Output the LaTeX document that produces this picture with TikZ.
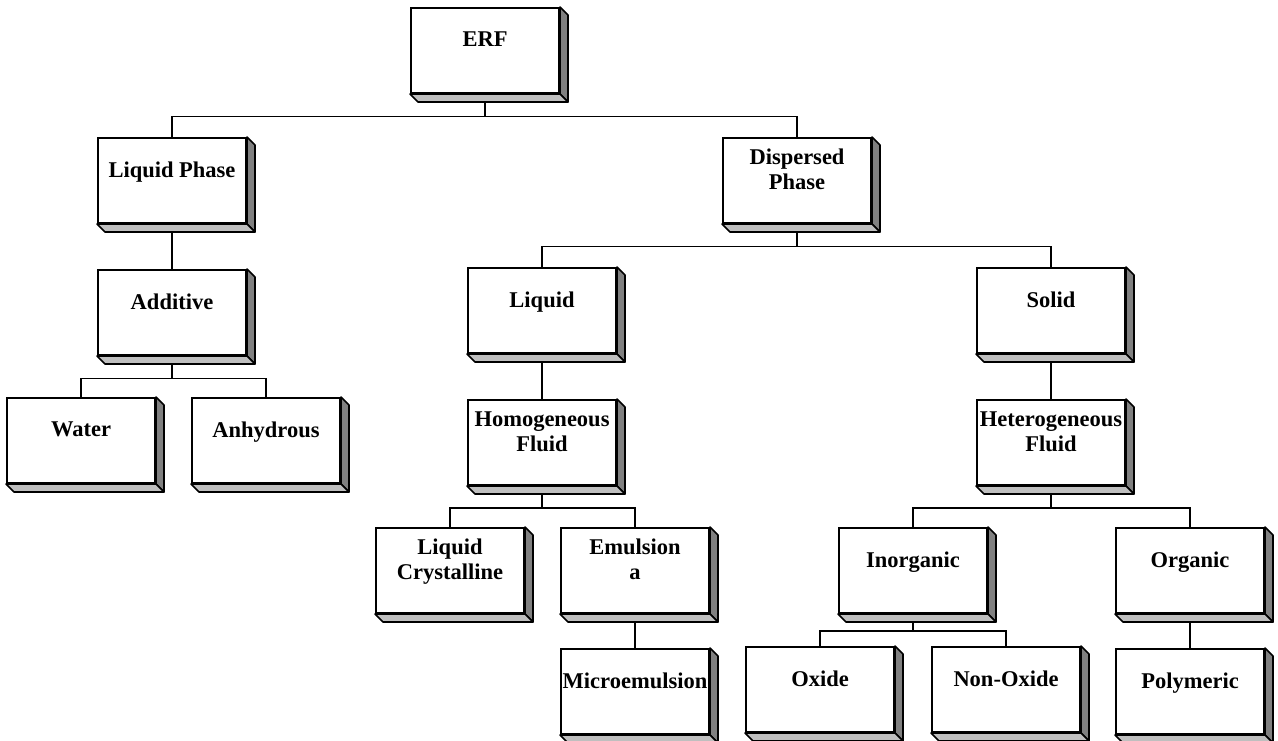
\documentclass[tikz,border=0pt]{standalone}
\usepackage{fontspec}
\setmainfont{Liberation Serif}
\usetikzlibrary{positioning}

\begin{document}
\begin{tikzpicture}[
    x=1pt, y=-1pt,
    node distance=45pt,
    box/.style={rectangle, draw, fill=white, line width=2pt, minimum width=148pt, minimum height=85pt,
        inner sep=0pt, align=center, text depth=22pt, font=\fontsize{22.5}{25}\selectfont\bfseries},
    conn/.style={line width=1.4pt},
    side/.style={fill=black!50, draw, line width=1.6pt, line join=round},
    floor/.style={fill=black!25, draw, line width=1.6pt, line join=round}
]
\useasboundingbox (0,0) rectangle (1278,740);

% boxes
\node[box] (erf) at (485,50.5) {ERF};
\node[box] (liqphase) at (172,180.5) {Liquid Phase};
\node[box] (disphase) at (797,180.5) {Dispersed\\Phase};
\node[box, below=of liqphase] (additive) {Additive};
\node[box] (liquid) at (542,310.5) {Liquid};
\node[box] (solid) at (1051,310.5) {Solid};
\node[box] (water) at (81,440.5) {Water};
\node[box] (anhydrous) at (266,440.5) {Anhydrous};
\node[box, below=of liquid] (homog) {Homogeneous\\Fluid};
\node[box, below=of solid] (heterog) {Heterogeneous\\Fluid};
\node[box] (liqcryst) at (450,570.5) {Liquid\\Crystalline};
\node[box] (emulsion) at (635,570.5) {Emulsion\\a};
\node[box] (inorganic) at (913,570.5) {Inorganic};
\node[box] (organic) at (1190,570.5) {Organic};
\node[box, below=34pt of emulsion] (microem) {Microemulsion};
\node[box] (oxide) at (820,689.5) {Oxide};
\node[box] (nonoxide) at (1006,689.5) {Non-Oxide};
\node[box, below=34pt of organic] (polymeric) {Polymeric};

% connectors
\draw[conn] (erf.south) -- ++(0,22.5) -| (liqphase.north);
\draw[conn] (erf.south) -- ++(0,22.5) -| (disphase.north);
\draw[conn] (liqphase) -- (additive);
\draw[conn] (disphase.south) -- ++(0,22.5) -| (liquid.north);
\draw[conn] (disphase.south) -- ++(0,22.5) -| (solid.north);
\draw[conn] (additive.south) -- ++(0,22.5) -| (water.north);
\draw[conn] (additive.south) -- ++(0,22.5) -| (anhydrous.north);
\draw[conn] (liquid) -- (homog);
\draw[conn] (solid) -- (heterog);
\draw[conn] (homog.south) -- ++(0,22) -| (liqcryst.north);
\draw[conn] (homog.south) -- ++(0,22) -| (emulsion.north);
\draw[conn] (heterog.south) -- ++(0,22) -| (inorganic.north);
\draw[conn] (heterog.south) -- ++(0,22) -| (organic.north);
\draw[conn] (emulsion) -- (microem);
\draw[conn] (inorganic.south) -- ++(0,17) -| (oxide.north);
\draw[conn] (inorganic.south) -- ++(0,17) -| (nonoxide.north);
\draw[conn] (organic) -- (polymeric);

% 3d edges
\foreach \b in {erf,liqphase,disphase,additive,liquid,solid,water,anhydrous,homog,heterog,
    liqcryst,emulsion,inorganic,organic,microem,oxide,nonoxide,polymeric}{
  \draw[side] (\b.north east) -- ++(8,8) -- ([shift={(8,8)}]\b.south east) -- (\b.south east) -- cycle;
  \draw[floor] (\b.south west) -- ++(8,8) -- ([shift={(8,8)}]\b.south east) -- (\b.south east) -- cycle;
}
\end{tikzpicture}
\end{document}
